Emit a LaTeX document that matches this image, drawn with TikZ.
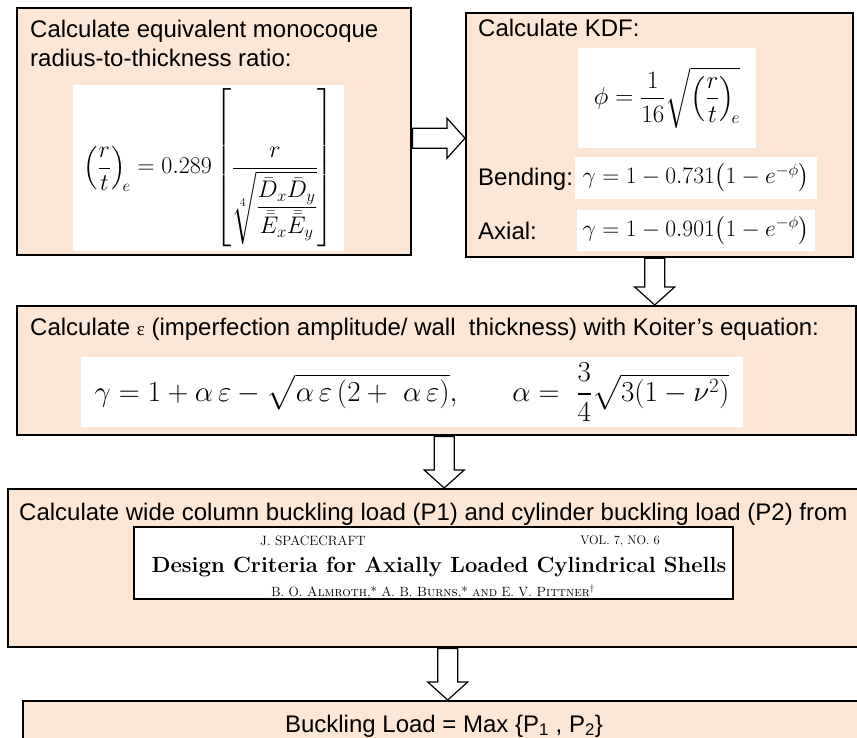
\RequirePackage{fix-cm}
\documentclass[tikz,border=0pt]{standalone}
\usepackage{amsmath}
\usepackage{amssymb}
\usepackage[no-math]{fontspec}
\newfontfamily\arialfont{Liberation Sans}
\newfontfamily\timesfont{Liberation Serif}
\usetikzlibrary{calc}

\definecolor{peach}{RGB}{252,231,214}

\tikzset{
  stage/.style={draw=black, line width=2.4pt, fill=peach, inner sep=0pt, anchor=north west},
  eqbox/.style={fill=white, inner sep=0pt, font=\fontsize{25}{30}\selectfont},
  heading/.style={anchor=base west, inner sep=0pt, font=\arialfont\fontsize{24}{29}\selectfont},
  clip text/.style={inner sep=0pt, font=\fontsize{13.5}{16}\selectfont},
  hollow/.style={draw=black, fill=white, line width=1.2pt,
    to path={let \p1=($(\tikztotarget)!18pt!(\tikztostart)$) in
      -- ($(\tikztostart)!10pt!90:(\tikztotarget)$)
      -- ($(\p1)!10pt!90:(\tikztotarget)$)
      -- ($(\p1)!20pt!90:(\tikztotarget)$)
      -- (\tikztotarget)
      -- ($(\p1)!20pt!-90:(\tikztotarget)$)
      -- ($(\p1)!10pt!-90:(\tikztotarget)$)
      -- ($(\tikztostart)!10pt!-90:(\tikztotarget)$)
      -- cycle}},
}

\begin{document}
\begin{tikzpicture}[x=1pt, y=-1pt]

	\path[use as bounding box, clip] (0,0) rectangle (857,738);

	% the five steps
	\node[stage, minimum width=394pt, minimum height=247pt] (b1) at (16,7) {};
	\node[stage, minimum width=387pt, minimum height=244pt] (b2) at (465,12) {};
	\node[stage, minimum width=839pt, minimum height=129pt] (b3) at (16,305) {};
	\node[stage, minimum width=870pt, minimum height=158pt] (b4) at (7,488) {};
	\node[stage, minimum width=860pt, minimum height=60pt] (b5) at (22,700) {};

	% equivalent r/t
	\node[heading] (t1a) at (30,38) {Calculate equivalent monocoque};
	\node[heading] (t1b) at (30,67) {radius-to-thickness ratio:};
	\node[eqbox, minimum width=271pt, minimum height=166pt, font=\fontsize{24}{29}\selectfont] (f1) at (208.5,168)
		{$\left(\dfrac{r}{t}\right)_{\!e} = 0.289\left[\rule[-70pt]{0pt}{153pt}\dfrac{r}{\sqrt[4]{\dfrac{\bar{D}_x\bar{D}_y}{\bar{\bar{E}}_x\bar{\bar{E}}_y}}}\right]$};

	% knockdown factor
	\node[heading] (t2a) at (478,37) {Calculate KDF:};
	\node[eqbox, minimum width=178pt, minimum height=100pt] (f2) at (667,98)
		{$\phi = \dfrac{1}{16}\sqrt{\left(\dfrac{r}{t}\right)_{\!e}}$};
	\node[heading] (t2b) at (478,186) {Bending:};
	\node[eqbox, minimum width=242pt, minimum height=42pt, font=\fontsize{23.5}{28}\selectfont] (f3) at (696,178)
		{$\gamma = 1 - 0.731\bigl(1 - e^{-\phi}\bigr)$};
	\node[heading] (t2c) at (478,240) {Axial:};
	\node[eqbox, minimum width=238pt, minimum height=41pt, font=\fontsize{23.5}{28}\selectfont] (f4) at (696,230.5)
		{$\gamma = 1 - 0.901\bigl(1 - e^{-\phi}\bigr)$};

	% Koiter
	\node[heading] (t3) at (30,335)
		{Calculate {\timesfont\fontsize{19}{22}\selectfont ε} (imperfection amplitude/ wall\ \ thickness) with Koiter’s equation:};
	\node[eqbox, minimum width=662pt, minimum height=70pt, font=\fontsize{29}{34}\selectfont] (f5) at (412,392)
		{$\gamma = 1 + \alpha\,\varepsilon - \sqrt{\alpha\,\varepsilon\,(2 +\ \alpha\,\varepsilon)},\hspace{50pt} \alpha =\ \dfrac{3}{4}\sqrt{3(1-\nu^2)}$};

	% buckling loads from the paper
	\node[heading] (t4) at (19,520)
		{Calculate wide column buckling load (P1) and cylinder buckling load (P2) from};
	\node[fill=white, draw=black, line width=1.2pt, minimum width=599pt, minimum height=72pt, inner sep=0pt] (ref) at (433.5,563) {};
	\node[clip text] (jnl) at (313,541) {J. SPACECRAFT};
	\node[clip text, font=\fontsize{12.5}{15}\selectfont] (vol) at (620,541) {VOL. 7, NO. 6};
	\node[clip text, font=\bfseries\fontsize{22}{26}\selectfont] (ttl) at (439,567)
		{Design Criteria for Axially Loaded Cylindrical Shells};
	\node[clip text, font=\fontsize{13.4}{16}\selectfont] (aut) at (433,592)
		{B. O. \textsc{Almroth},* A. B. \textsc{Burns},* \textsc{and} E. V. \textsc{Pittner}\textsuperscript{\dag}};

	% result
	\node[heading, anchor=base] (t5) at (444,732)
		{Buckling Load = Max \{P\textsubscript{1} , P\textsubscript{2}\}};

	% hollow arrows between the steps
	\coordinate (a12) at ([yshift=-6.5pt]b1.east);
	\coordinate (a23) at ([xshift=-5pt]b2.south);
	\coordinate (a34) at ([xshift=7.5pt]b3.south);
	\coordinate (a45) at ([xshift=4.5pt]b4.south);
	\draw[hollow] (a12) to (a12 -| b2.west);
	\draw[hollow] (a23) to (a23 |- b3.north);
	\draw[hollow] (a34) to (a34 |- b4.north);
	\draw[hollow] (a45) to (a45 |- b5.north);

\end{tikzpicture}
\end{document}
